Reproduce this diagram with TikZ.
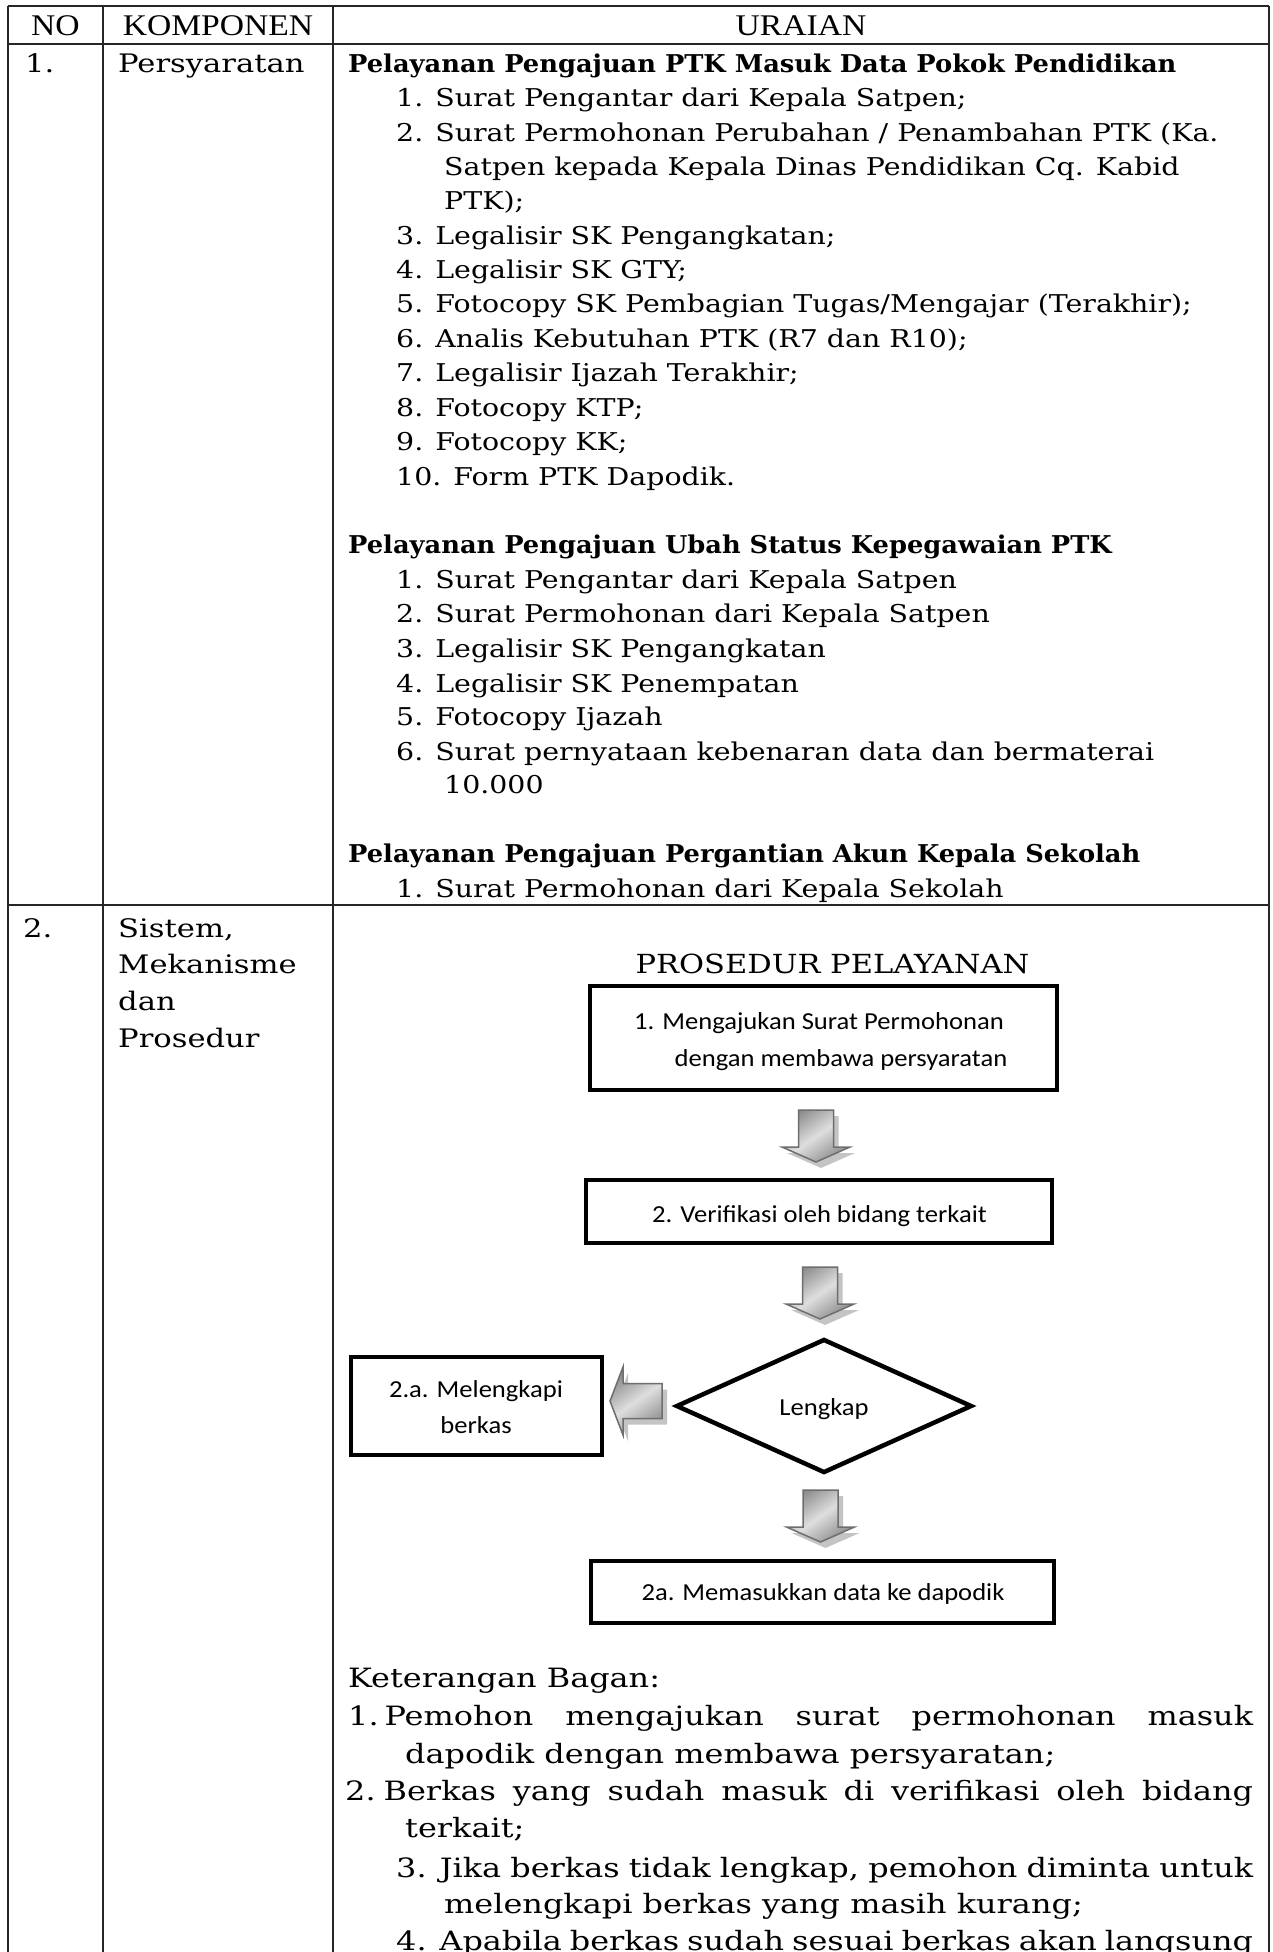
\documentclass[tikz,border=0pt]{standalone}
\usepackage{fontspec}
\usetikzlibrary{shapes.geometric}
\newfontfamily\bodyf{DejaVu Serif}[FakeStretch=1.16]
\newfontfamily\bodyb{DejaVu Serif}[FakeStretch=1.05]
\newfontfamily\widef{DejaVu Serif}[FakeStretch=1.2]
\newfontfamily\headf{Liberation Serif}[FakeStretch=1.12]
\newfontfamily\flowf{Carlito}[FakeStretch=1.09]
\definecolor{ruleclr}{HTML}{262626}
\definecolor{arrowedge}{HTML}{6E6E6E}
\definecolor{arrowdark}{HTML}{8C8C8C}
\definecolor{arrowlight}{HTML}{DEDEDE}
\definecolor{arrowshadow}{HTML}{C4C4C4}
\begin{document}
\begin{tikzpicture}[x=1pt,y=-1pt,
  rule/.style={line width=1.6pt, draw=ruleclr},
  hd/.style={anchor=base, inner sep=0pt, font=\headf\fontsize{30}{34}\selectfont},
  txt/.style={anchor=base west, inner sep=0pt, font=\bodyf\fontsize{24.5}{34}\selectfont},
  ttl/.style={anchor=base west, inner sep=0pt, font=\bodyb\bfseries\fontsize{24.5}{34}\selectfont},
  col/.style={anchor=base west, inner sep=0pt, font=\widef\fontsize{25.5}{37}\selectfont},
  big/.style={anchor=base west, inner sep=0pt, font=\widef\fontsize{26.6}{37}\selectfont},
  fbox/.style={draw=black, line width=4.5pt, fill=white, inner sep=0pt},
  ftxt/.style={anchor=base, inner sep=0pt, font=\flowf\fontsize{24.4}{37}\selectfont},
  arrowbody/.style={draw=arrowedge, line width=1.5pt, left color=arrowdark, right color=arrowdark, middle color=arrowlight, shading angle=35},
  pics/dnarrow/.style={code={
    \fill[arrowshadow, shift={(5,6)}] (-17.5,0) -- (17.5,0) -- (17.5,37) -- (34,37) -- (0,52) -- (-34,37) -- (-17.5,37) -- cycle;
    \path[arrowbody] (-17.5,0) -- (17.5,0) -- (17.5,37) -- (34,37) -- (0,52) -- (-34,37) -- (-17.5,37) -- cycle;
  }},
  pics/lfarrow/.style={code={
    \fill[arrowshadow, shift={(5,6)}] (0,-17.5) -- (0,17.5) -- (-39,17.5) -- (-39,34) -- (-52,0) -- (-39,-34) -- (-39,-17.5) -- cycle;
    \path[arrowbody] (0,-17.5) -- (0,17.5) -- (-39,17.5) -- (-39,34) -- (-52,0) -- (-39,-34) -- (-39,-17.5) -- cycle;
  }}
]
\fill[white] (0,0) rectangle (1273,1952);
\useasboundingbox (0,0) rectangle (1273,1952);

% table grid
\draw[rule] (8,6) -- (1269,6);
\draw[rule] (8,44) -- (1269,44);
\draw[rule] (8,905) -- (1269,905);
\draw[rule] (8,6) -- (8,1960);
\draw[rule] (103,6) -- (103,1960);
\draw[rule] (333,6) -- (333,1960);
\draw[rule] (1269,6) -- (1269,1960);

% header
\node[hd] (hno) at (55.5,35) {NO};
\node[hd] (hkomp) at (218,35) {KOMPONEN};
\node[hd] (hurai) at (801,35) {URAIAN};

% row 1
\node[col] (n1) at (25,72) {1.};
\node[col] (k1) at (118,72) {Persyaratan};

\node[ttl] (s1) at (348,72) {Pelayanan Pengajuan PTK Masuk Data Pokok Pendidikan};
\node[txt] (s1a) at (396,106) {1. Surat Pengantar dari Kepala Satpen;};
\node[txt] (s1b) at (396,141) {2. Surat Permohonan Perubahan / Penambahan PTK (Ka.};
\node[txt] (s1b2) at (444,175) {Satpen kepada Kepala Dinas Pendidikan Cq. Kabid};
\node[txt] (s1b3) at (444,209) {PTK);};
\node[txt] (s1c) at (396,244) {3. Legalisir SK Pengangkatan;};
\node[txt] (s1d) at (396,278) {4. Legalisir SK GTY;};
\node[txt] (s1e) at (396,312) {5. Fotocopy SK Pembagian Tugas/Mengajar (Terakhir);};
\node[txt] (s1f) at (396,347) {6. Analis Kebutuhan PTK (R7 dan R10);};
\node[txt] (s1g) at (396,381) {7. Legalisir Ijazah Terakhir;};
\node[txt] (s1h) at (396,416) {8. Fotocopy KTP;};
\node[txt] (s1i) at (396,450) {9. Fotocopy KK;};
\node[txt] (s1j) at (396,485) {10. Form PTK Dapodik.};

\node[ttl] (s2) at (348,553) {Pelayanan Pengajuan Ubah Status Kepegawaian PTK};
\node[txt] (s2a) at (396,588) {1. Surat Pengantar dari Kepala Satpen};
\node[txt] (s2b) at (396,622) {2. Surat Permohonan dari Kepala Satpen};
\node[txt] (s2c) at (396,657) {3. Legalisir SK Pengangkatan};
\node[txt] (s2d) at (396,692) {4. Legalisir SK Penempatan};
\node[txt] (s2e) at (396,725) {5. Fotocopy Ijazah};
\node[txt] (s2f) at (396,760) {6. Surat pernyataan kebenaran data dan bermaterai};
\node[txt] (s2f2) at (444,793) {10.000};

\node[ttl] (s3) at (348,862) {Pelayanan Pengajuan Pergantian Akun Kepala Sekolah};
\node[txt] (s3a) at (396,897) {1. Surat Permohonan dari Kepala Sekolah};

% row 2
\node[col] (n2) at (23,937) {2.};
\node[col] (k2a) at (118,937) {Sistem,};
\node[col] (k2b) at (118,973) {Mekanisme};
\node[col] (k2c) at (118,1010) {dan};
\node[col] (k2d) at (118,1047) {Prosedur};

% procedure chart
\node[anchor=base, inner sep=0pt, font=\bodyf\fontsize{26.3}{34}\selectfont] (ptitle) at (832.5,973) {PROSEDUR PELAYANAN};

\node[fbox, minimum width=467pt, minimum height=104pt] (b1) at (823.5,1038) {};
\node[ftxt, anchor=base west] (b1t1) at (634,1029) {1. Mengajukan Surat Permohonan};
\node[ftxt, anchor=base west] (b1t2) at (674.5,1066) {dengan membawa persyaratan};

\node[fbox, minimum width=466pt, minimum height=63pt] (b2) at (819,1211.5) {};
\node[ftxt] (b2t) at (819.5,1222) {2. Verifikasi oleh bidang terkait};

\node[draw=black, line width=4.5pt, diamond, aspect=2.2, minimum width=296pt, minimum height=134pt, inner sep=0pt] (dm) at (824,1406) {};
\node[ftxt] (dmt) at (824,1415) {Lengkap};

\node[fbox, minimum width=251pt, minimum height=98pt] (ba) at (476.5,1406) {};
\node[ftxt] (bat1) at (476,1397) {2.a. Melengkapi};
\node[ftxt] (bat2) at (476,1433) {berkas};

\node[fbox, minimum width=463pt, minimum height=62pt] (b3) at (822.5,1592) {};
\node[ftxt] (b3t) at (823,1600) {2a. Memasukkan data ke dapodik};

\pic (a1) at (816,1110) {dnarrow};
\pic (a2) at (820,1267) {dnarrow};
\pic (a3) at (820.5,1490) {dnarrow};
\pic (a4) at (662,1401) {lfarrow};

% notes under the chart
\node[big] (kb) at (348,1687) {Keterangan Bagan:};
\node[big] (kb1) at (348,1725) {\makebox[905pt][s]{1.\hspace{6pt}Pemohon mengajukan surat permohonan masuk}};
\node[big] (kb1b) at (405,1763) {dapodik dengan membawa persyaratan;};
\node[big] (kb2) at (345,1800) {\makebox[908pt][s]{2.\hspace{8pt}Berkas yang sudah masuk di verifikasi oleh bidang}};
\node[big] (kb2b) at (405,1837) {terkait;};
\node[big] (kb3) at (396,1877) {\makebox[857pt][s]{3. Jika berkas tidak lengkap, pemohon diminta untuk}};
\node[big] (kb3b) at (444,1913) {melengkapi berkas yang masih kurang;};
\node[big] (kb4) at (396,1950) {\makebox[857pt][s]{4. Apabila berkas sudah sesuai berkas akan langsung}};
\end{tikzpicture}
\end{document}
